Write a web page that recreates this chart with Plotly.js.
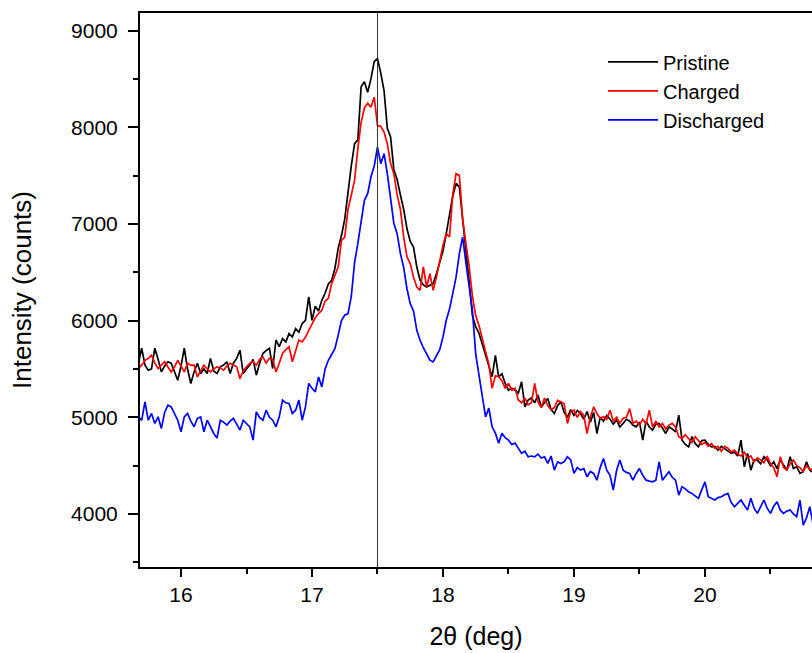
<!DOCTYPE html>
<html>
<head>
<meta charset="utf-8">
<script src="https://cdn.plot.ly/plotly-3.0.1.min.js"></script>
<style>html,body{margin:0;padding:0;background:#fff;}#chart{width:812px;height:653px;}</style>
</head>
<body>
<div id="chart"></div>
<script>
// 2-theta sampling grid (deg)
const twoTheta = [
15.675,15.7,15.725,15.75,15.775,15.8,15.825,15.85,15.875,15.9,
15.925,15.95,15.975,16.0,16.025,16.05,16.075,16.1,16.125,16.15,
16.175,16.2,16.225,16.25,16.275,16.3,16.325,16.35,16.375,16.4,
16.425,16.45,16.475,16.5,16.525,16.55,16.575,16.6,16.625,16.65,
16.675,16.7,16.725,16.75,16.775,16.8,16.825,16.85,16.875,16.9,
16.925,16.95,16.975,17.0,17.025,17.05,17.075,17.1,17.125,17.15,
17.175,17.2,17.225,17.25,17.275,17.3,17.325,17.35,17.375,17.4,
17.425,17.45,17.475,17.5,17.525,17.55,17.575,17.6,17.625,17.65,
17.675,17.7,17.725,17.75,17.775,17.8,17.825,17.85,17.875,17.9,
17.925,17.95,17.975,18.0,18.025,18.05,18.075,18.1,18.125,18.15,
18.175,18.2,18.225,18.25,18.275,18.3,18.325,18.35,18.375,18.4,
18.425,18.45,18.475,18.5,18.525,18.55,18.575,18.6,18.625,18.65,
18.675,18.7,18.725,18.75,18.775,18.8,18.825,18.85,18.875,18.9,
18.925,18.95,18.975,19.0,19.025,19.05,19.075,19.1,19.125,19.15,
19.175,19.2,19.225,19.25,19.275,19.3,19.325,19.35,19.375,19.4,
19.425,19.45,19.475,19.5,19.525,19.55,19.575,19.6,19.625,19.65,
19.675,19.7,19.725,19.75,19.775,19.8,19.825,19.85,19.875,19.9,
19.925,19.95,19.975,20.0,20.025,20.05,20.075,20.1,20.125,20.15,
20.175,20.2,20.225,20.25,20.275,20.3,20.325,20.35,20.375,20.4,
20.425,20.45,20.475,20.5,20.525,20.55,20.575,20.6,20.625,20.65,
20.675,20.7,20.725,20.75,20.775,20.8,20.825
];

const pristine = [
5560,5715,5540,5488,5500,5715,5600,5470,5530,5575,
5560,5480,5384,5530,5715,5500,5350,5470,5560,5453,
5500,5453,5610,5480,5453,5522,5540,5575,5453,5560,
5610,5694,5453,5500,5540,5600,5436,5560,5660,5690,
5715,5505,5800,5730,5815,5780,5866,5832,5918,5880,
5970,6004,6245,6004,6150,6100,6210,6283,6380,6417,
6540,6750,6880,7050,7350,7600,7830,7870,8420,8470,
8362,8500,8680,8710,8560,8380,7990,7900,7560,7460,
7300,7150,6950,6820,6761,6555,6420,6370,6348,6370,
6383,6486,6600,6720,6900,7100,7290,7420,7380,7050,
6750,6400,6050,5935,5870,5763,5650,5550,5420,5640,
5418,5450,5350,5280,5300,5281,5250,5367,5108,5178,
5200,5150,5230,5108,5150,5195,5080,5040,5120,5160,
5050,5000,5080,5020,5070,5040,4980,5060,4950,5050,
4833,5000,4960,5020,4980,4930,4970,4900,4937,4980,
4960,4920,4902,4950,4764,4960,4900,4868,4930,4937,
4890,4833,4900,4880,4850,5023,4764,4720,4695,4800,
4730,4695,4760,4764,4720,4695,4700,4660,4700,4678,
4650,4627,4640,4600,4764,4489,4627,4454,4560,4558,
4520,4592,4560,4500,4540,4470,4560,4500,4454,4592,
4470,4489,4420,4440,4540,4454,4430
];

const charged = [
5505,5540,5590,5610,5642,5560,5505,5540,5575,5520,
5470,5520,5590,5530,5470,5560,5540,5540,5418,5480,
5540,5500,5470,5500,5522,5510,5488,5530,5560,5540,
5522,5400,5480,5522,5560,5575,5540,5600,5625,5560,
5610,5600,5470,5560,5660,5700,5730,5575,5700,5800,
5780,5830,5900,5960,6030,6073,6107,6200,6230,6383,
6480,6555,6830,6865,7150,7300,7450,7780,8050,8200,
8250,8207,8311,8018,8010,7950,7830,7624,7520,7300,
7150,6865,6660,6590,6450,6348,6314,6555,6348,6486,
6314,6450,6624,6780,6900,6865,7313,7520,7500,7050,
6800,6560,6250,6050,5950,5800,5680,5550,5300,5430,
5420,5380,5300,5350,5280,5300,5180,5150,5200,5130,
5150,5350,5160,5100,5200,5120,5080,5100,5175,5160,
5140,4937,5060,5074,5000,5060,5020,4833,5000,5108,
5040,4990,5005,4980,5074,4960,5000,4940,4990,5000,
5090,4940,4960,4920,4980,4930,5074,4900,4960,4900,
4937,4880,4920,4937,4900,4800,4780,4820,4780,4740,
4800,4764,4720,4740,4700,4730,4680,4700,4650,4700,
4680,4640,4660,4620,4600,4640,4580,4600,4540,4580,
4560,4530,4600,4520,4480,4385,4592,4480,4454,4520,
4560,4500,4480,4440,4500,4460,4470
];

const discharged = [
5005,4970,5160,4970,5040,4937,5005,4885,5050,5126,
5108,5030,4970,4850,5005,5040,4960,4902,4990,5005,
4850,4970,4900,4833,4785,4970,4950,4920,4960,4990,
4930,4868,4970,4940,4902,4764,5057,5000,4970,5074,
5000,4970,4902,5005,5178,5150,5143,5040,5074,5178,
4970,5108,5350,5300,5264,5418,5315,5500,5590,5650,
5710,5850,6000,6056,6073,6250,6600,6800,7050,7244,
7313,7485,7600,7794,7624,7727,7520,7244,7005,6900,
6693,6550,6330,6176,6100,5900,5797,5720,5660,5591,
5573,5630,5700,5832,6004,6120,6280,6450,6693,6865,
6600,6350,6100,5650,5430,5178,5005,5095,4902,4836,
4733,4836,4790,4764,4720,4733,4680,4627,4650,4592,
4600,4592,4620,4580,4592,4523,4600,4454,4540,4523,
4540,4592,4560,4420,4480,4454,4470,4385,4440,4420,
4350,4480,4575,4454,4400,4248,4450,4558,4454,4430,
4420,4350,4420,4470,4400,4350,4340,4333,4350,4540,
4350,4400,4437,4380,4350,4196,4282,4260,4230,4213,
4190,4162,4250,4333,4179,4160,4145,4170,4179,4200,
4213,4120,4075,4110,4145,4090,4041,4162,4060,4007,
4080,4145,4060,4007,4080,4127,4040,4007,4030,4041,
4000,3972,4145,3886,3960,4075,3900
];

const seriesNames = ["Pristine", "Charged", "Discharged"];
const seriesColors = ["#000000", "#ff0000", "#0000ff"];
const markerLine = 17.5;

const FONT = "Liberation Sans, Arial, sans-serif";
const allY = [pristine, charged, discharged];
const traces = allY.map((ys, i) => ({
  type: "scatter",
  mode: "lines",
  x: twoTheta,
  y: ys,
  name: seriesNames[i],
  line: {color: seriesColors[i], width: 1.7}
}));

const layout = {
  width: 812,
  height: 653,
  margin: {l: 140, r: 0, t: 13, b: 86, pad: 0},
  paper_bgcolor: "#ffffff",
  plot_bgcolor: "#ffffff",
  font: {family: FONT, color: "#000000", size: 20},
  showlegend: true,
  legend: {
    x: 0.689, xanchor: "left",
    y: 0.947, yanchor: "top",
    bgcolor: "rgba(255,255,255,0)",
    borderwidth: 0,
    font: {family: FONT, size: 20, color: "#000"},
    itemwidth: 50,
    tracegroupgap: 0
  },
  xaxis: {
    range: [15.687, 20.817],
    showgrid: false,
    zeroline: false,
    showline: true,
    linecolor: "#000",
    linewidth: 2,
    mirror: true,
    ticks: "outside",
    ticklen: 8,
    tickwidth: 2,
    tickcolor: "#000",
    tick0: 16,
    dtick: 1,
    tickfont: {family: FONT, size: 21, color: "#000"},
    minor: {ticks: "outside", ticklen: 5, tickwidth: 2, tickcolor: "#000", dtick: 0.5, tick0: 16, showgrid: false},
    title: {text: "2θ (deg)", font: {family: FONT, size: 25, color: "#000"}, standoff: 22}
  },
  yaxis: {
    range: [3452, 9182],
    showgrid: false,
    zeroline: false,
    showline: true,
    linecolor: "#000",
    linewidth: 2,
    mirror: false,
    ticks: "outside",
    ticklen: 10,
    tickwidth: 2,
    tickcolor: "#000",
    tick0: 0,
    dtick: 1000,
    tickfont: {family: FONT, size: 21, color: "#000"},
    ticklabelstandoff: 6,
    minor: {ticks: "outside", ticklen: 5, tickwidth: 2, tickcolor: "#000", dtick: 500, tick0: 0, showgrid: false},
    title: {text: "Intensity (counts)", font: {family: FONT, size: 26, color: "#000"}, standoff: 32}
  },
  shapes: [{
    type: "line", xref: "x", yref: "paper",
    x0: markerLine, x1: markerLine, y0: 0, y1: 1,
    line: {color: "#333333", width: 1},
    layer: "above"
  }]
};

Plotly.newPlot("chart", traces, layout, {displayModeBar: false, staticPlot: true});
</script>
</body>
</html>
